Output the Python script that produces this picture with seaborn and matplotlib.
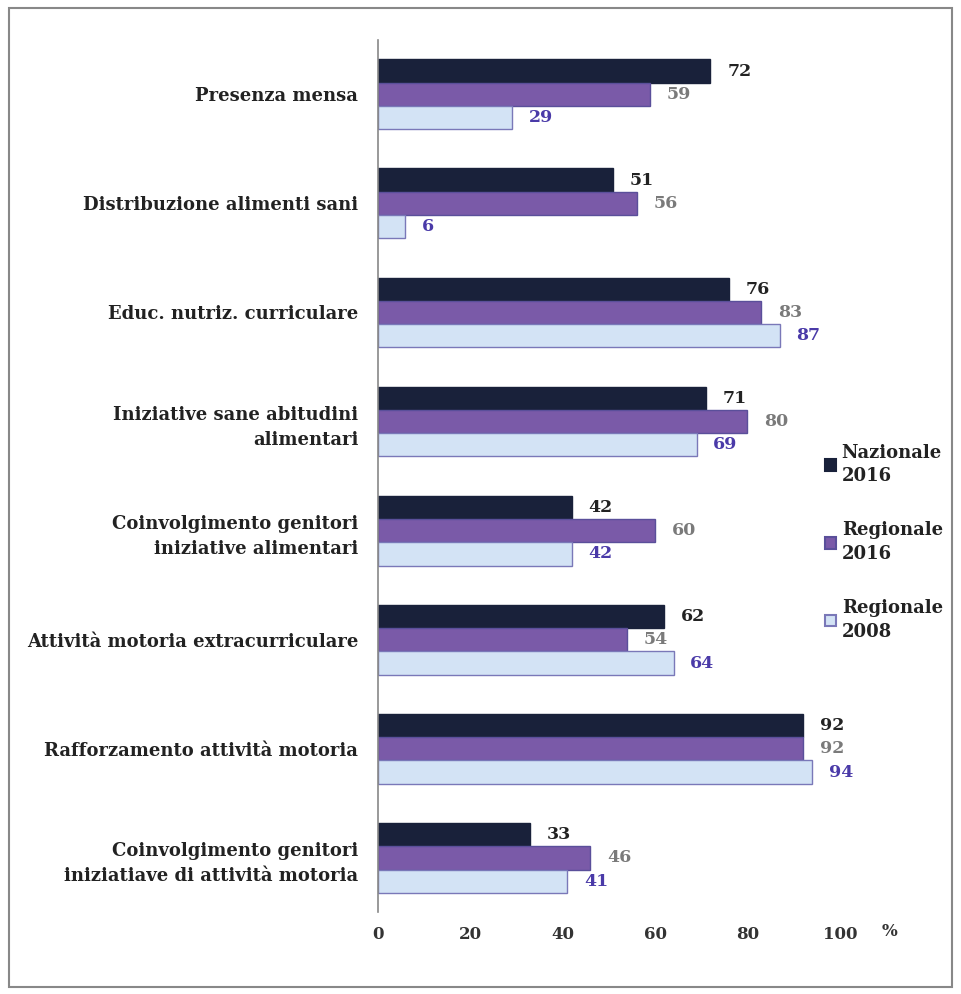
import matplotlib
matplotlib.use("Agg")
import matplotlib.pyplot as plt
import seaborn as sns
import pandas as pd
from matplotlib.patches import Rectangle
from matplotlib.ticker import FixedLocator

categories = [
    "Presenza mensa",
    "Distribuzione alimenti sani",
    "Educ. nutriz. curriculare",
    "Iniziative sane abitudini\nalimentari",
    "Coinvolgimento genitori\niniziative alimentari",
    "Attività motoria extracurriculare",
    "Rafforzamento attività motoria",
    "Coinvolgimento genitori\niniziatiave di attività motoria",
]
series = ["Nazionale\n2016", "Regionale\n2016", "Regionale\n2008"]
nazionale_2016 = [72, 51, 76, 71, 42, 62, 92, 33]
regionale_2016 = [59, 56, 83, 80, 60, 54, 92, 46]
regionale_2008 = [29, 6, 87, 69, 42, 64, 94, 41]
xticks = [0, 20, 40, 60, 80, 100]

rows = []
for s, vals in zip(series, [nazionale_2016, regionale_2016, regionale_2008]):
    for c, v in zip(categories, vals):
        rows.append({"cat": c, "series": s, "value": v})
df = pd.DataFrame(rows)

sns.set_style("white")
plt.rcParams["font.family"] = ["DejaVu Serif"]
plt.rcParams["font.weight"] = "bold"

fill_colors = ["#19213a", "#7a5aa8", "#d3e3f5"]
edge_colors = ["#19213a", "#5a4f9a", "#7a78b8"]
label_colors = ["#222222", "#7a7a7a", "#4a3aa8"]

fig = plt.figure(figsize=(9.61, 9.94), dpi=100)
ax = fig.add_axes([0.393, 0.082, 0.481, 0.878])

sns.barplot(data=df, x="value", y="cat", hue="series", order=categories,
            hue_order=series, palette=fill_colors, width=0.64, orient="h",
            ax=ax, legend=False, saturation=1)

for i, cont in enumerate(ax.containers):
    for p in cont:
        p.set_edgecolor(edge_colors[i])
        p.set_linewidth(1.0)
    ax.bar_label(cont, padding=12, color=label_colors[i], fontsize=12.5,
                 fontweight="bold", fontfamily="DejaVu Serif")

ax.set_xlim(0, 100)
ax.set_ylim(len(categories) - 0.5, -0.5)
ax.set_xticks(xticks)
ax.set_xticklabels([str(t) for t in xticks], fontsize=12, fontweight="bold",
                   color="#333333")
ax.set_yticks(range(len(categories)))
ax.set_yticklabels(categories, fontsize=13, fontweight="bold",
                   color="#222222", linespacing=1.5)
ax.yaxis.set_minor_locator(FixedLocator([i - 0.5 for i in range(len(categories) + 1)]))
ax.tick_params(axis="y", which="major", length=0, pad=14)
ax.tick_params(axis="y", which="minor", length=5, color="#888888", width=1)
ax.tick_params(axis="x", length=0, pad=10)
ax.set_xlabel("")
ax.set_ylabel("")
for s in ["top", "right", "bottom"]:
    ax.spines[s].set_visible(False)
ax.spines["left"].set_color("#888888")
ax.spines["left"].set_linewidth(1.2)

ax.text(1.09, -0.012, "%", transform=ax.transAxes, fontsize=12,
        fontweight="bold", color="#333333", va="top", ha="left")

handles = [Rectangle((0, 0), 1, 1, facecolor=fill_colors[i],
                     edgecolor=edge_colors[i], linewidth=1.5) for i in range(3)]
leg = fig.legend(handles, series, loc="upper left",
                 bbox_to_anchor=(0.842, 0.57), frameon=False,
                 handlelength=0.6, handleheight=0.6, handletextpad=0.3,
                 labelspacing=2.0, prop={"family": "DejaVu Serif",
                                         "weight": "bold", "size": 13})
for t in leg.get_texts():
    t.set_color("#222222")
    t.set_linespacing(1.4)

fig.patches.append(Rectangle((0.009, 0.007), 0.982, 0.985,
                             transform=fig.transFigure, fill=False,
                             edgecolor="#888888", linewidth=1.5))

fig.savefig("out.png", dpi=100)
